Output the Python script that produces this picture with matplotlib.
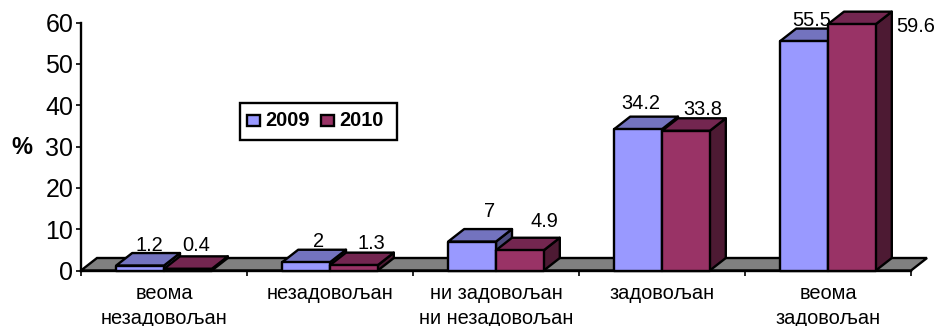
import matplotlib
matplotlib.use("Agg")
import matplotlib.pyplot as plt
from matplotlib.patches import Polygon, Rectangle

plt.rcParams["font.family"] = ["Liberation Sans", "DejaVu Sans"]

categories = ["веома\nнезадовољан", "незадовољан", "ни задовољан\nни незадовољан", "задовољан", "веома\nзадовољан"]
years = ["2009", "2010"]
values_2009 = [1.2, 2, 7, 34.2, 55.5]
values_2010 = [0.4, 1.3, 4.9, 33.8, 59.6]
y_ticks = [0, 10, 20, 30, 40, 50, 60]

W, H = 935, 326
fig = plt.figure(figsize=(W / 100, H / 100), dpi=100)
ax = fig.add_axes([81 / W, (H - 270.5) / H, 830 / W, 248 / H])
ax.set_xlim(0, 5)
ax.set_ylim(0, 60)

# Oblique depth of the pseudo-3D boxes, in data units
DX = 16 / 166
DY = 12.5 / (248 / 60)
BAR_W = 0.288
EDGE = 1.7

faces = {
    "2009": ("#9999FF", "#7373BF", "#4D4D80"),
    "2010": ("#993366", "#732650", "#4D1A33"),
}


def box(x0, h, colours, z):
    front, top, side = colours
    x1 = x0 + BAR_W
    style = dict(edgecolor="black", linewidth=EDGE, joinstyle="round", clip_on=False, zorder=z)
    ax.add_patch(Polygon([(x1, 0), (x1 + DX, DY), (x1 + DX, h + DY), (x1, h)], facecolor=side, **style))
    ax.add_patch(Polygon([(x0, h), (x1, h), (x1 + DX, h + DY), (x0 + DX, h + DY)], facecolor=top, **style))
    ax.add_patch(Polygon([(x0, 0), (x1, 0), (x1, h), (x0, h)], facecolor=front, **style))


# Floor of the chart
ax.add_patch(Polygon([(0, 0), (5, 0), (5 + DX, DY), (DX, DY)], facecolor="#808080",
                     edgecolor="black", linewidth=EDGE, clip_on=False, zorder=1))

for i, (a, b) in enumerate(zip(values_2009, values_2010)):
    left = i + 0.5 - BAR_W
    box(left, a, faces["2009"], 3 + 2 * i)
    box(left + BAR_W, b, faces["2010"], 4 + 2 * i)

# Value labels, nudged in pixels from the top-centre of each front face
nudges_2009 = [(9, 20), (12, 21), (17, 30), (3, 26), (8, 21)]
nudges_2010 = [(8, 23), (17, 22), (25, 29), (17, 21), (64, -2)]
for i, (a, b) in enumerate(zip(values_2009, values_2010)):
    for val, xc, (nx, ny) in (
        (a, i + 0.5 - BAR_W / 2, nudges_2009[i]),
        (b, i + 0.5 + BAR_W / 2, nudges_2010[i]),
    ):
        ax.annotate(f"{val:g}", xy=(xc, val), xytext=(nx * 0.72, ny * 0.72), textcoords="offset points",
                    ha="center", va="center", fontsize=14.4, color="black", zorder=2,
                    annotation_clip=False)

for s in ("top", "right"):
    ax.spines[s].set_visible(False)
for s in ("left", "bottom"):
    ax.spines[s].set_linewidth(EDGE)
    ax.spines[s].set_zorder(2)

ax.set_yticks(y_ticks)
ax.tick_params(axis="y", labelsize=18, length=3.5, width=1.2, pad=2)
ax.set_xticks(range(6))
ax.set_xticklabels([])
ax.tick_params(axis="x", length=3.5, width=1.2)

for i, name in enumerate(categories):
    ax.annotate(name, xy=(i + 0.5, 0), xytext=(0, -10), textcoords="offset points",
                ha="center", va="top", fontsize=14.4, linespacing=1.36, annotation_clip=False)

fig.text(22 / W, 1 - 147 / H, "%", fontsize=17, fontweight="bold", ha="center", va="center")

# Hand-placed legend box
fig.add_artist(Rectangle((240 / W, 1 - 140 / H), 157 / W, 37 / H, transform=fig.transFigure,
                         facecolor="white", edgecolor="black", linewidth=EDGE, zorder=20))
for year, sx in zip(years, (247, 321)):
    fig.add_artist(Rectangle((sx / W, 1 - 126 / H), 13 / W, 11 / H, transform=fig.transFigure,
                             facecolor=faces[year][0], edgecolor="black", linewidth=EDGE, zorder=21))
    fig.text((sx + 18) / W, 1 - 120.5 / H, year, fontsize=14.4, fontweight="bold", ha="left", va="center", zorder=22)

fig.savefig("out.png", dpi=100)
